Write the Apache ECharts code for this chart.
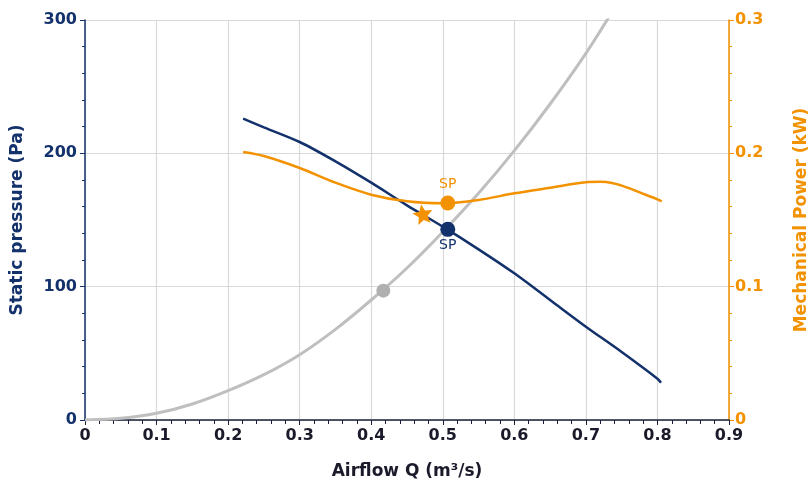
<!DOCTYPE html>
<html>
<head>
<meta charset="utf-8">
<script src="https://cdn.jsdelivr.net/npm/echarts@6/dist/echarts.min.js"></script>
<style>
html,body{margin:0;padding:0;background:#fff;}
#c{width:808px;height:482px;}
</style>
</head>
<body>
<div id="c"></div>
<script>
// Fan curve: static pressure (Pa) vs airflow (m3/s)
const pressureQ = [0.221, 0.25, 0.3, 0.35, 0.4, 0.45, 0.5, 0.55, 0.6, 0.65, 0.7, 0.75, 0.8, 0.805];
const pressureVals = [226, 219.5, 208.5, 194, 178, 161, 145, 128, 110, 90, 70, 51, 31, 28];
// Mechanical power (kW)
const powerQ = [0.221, 0.25, 0.3, 0.35, 0.4, 0.45, 0.5, 0.55, 0.6, 0.65, 0.7, 0.72, 0.738, 0.757, 0.776, 0.8, 0.806];
const powerVals = [0.201, 0.198, 0.189, 0.178, 0.169, 0.164, 0.1625, 0.165, 0.170, 0.1742, 0.1783, 0.1786, 0.1775, 0.1745, 0.1705, 0.1655, 0.164];
// System curve (Pa)
const systemQ = [0, 0.05, 0.1, 0.15, 0.2, 0.25, 0.3, 0.35, 0.4, 0.45, 0.5, 0.55, 0.6, 0.65, 0.7, 0.74];
const systemVals = [0, 1.3, 5, 12, 22, 34, 49, 68, 90, 114, 141, 170, 202, 237, 275, 309];
// Operating points
const spPressure = [0.507, 143];
const spPower = [0.507, 0.1628];
const starPower = [0.472, 0.1545];
const systemPoint = [0.4169, 97];
const spLabel = 'SP';

const NAVY = '#13316b';
const ORANGE = '#f39200';
const GRAY = '#bfbfbf';
const FONT = 'DejaVu Sans';

const zip = (a, b) => a.map((v, i) => [v, b[i]]);

const chart = echarts.init(document.getElementById('c'), null, {renderer: 'canvas'});
chart.setOption({
  animation: false,
  backgroundColor: '#fff',
  grid: {left: 85, right: 79, top: 20, bottom: 62, containLabel: false, outerBoundsMode: 'none'},
  xAxis: {
    type: 'value', min: 0, max: 0.9, interval: 0.1,
    name: 'Airflow Q (m³/s)', nameLocation: 'middle', nameGap: 43,
    nameTextStyle: {fontFamily: FONT, fontWeight: 'bold', fontSize: 17, color: '#1a1a2a'},
    axisLine: {show: true, onZero: false, lineStyle: {color: '#1a2238', width: 1.5}},
    axisTick: {show: true, length: 5, lineStyle: {color: '#1a2238'}},
    minorTick: {show: true, splitNumber: 5, length: 4, lineStyle: {color: '#1a2238'}},
    axisLabel: {fontFamily: FONT, fontWeight: 'bold', fontSize: 16, color: '#1a1a2a', margin: 8},
    splitLine: {show: true, lineStyle: {color: '#d9d9d9', width: 1.2}}
  },
  yAxis: [{
    type: 'value', min: 0, max: 300, interval: 100, position: 'left',
    name: 'Static pressure (Pa)', nameLocation: 'middle', nameGap: 59, nameRotate: 90,
    nameTextStyle: {fontFamily: FONT, fontWeight: 'bold', fontSize: 17, color: NAVY},
    axisLine: {show: true, lineStyle: {color: NAVY, width: 1.5}},
    axisTick: {show: true, length: 5, lineStyle: {color: NAVY}},
    minorTick: {show: true, splitNumber: 5, length: 3, lineStyle: {color: NAVY}},
    axisLabel: {fontFamily: FONT, fontWeight: 'bold', fontSize: 16, color: NAVY, margin: 8},
    splitLine: {show: true, lineStyle: {color: '#d9d9d9', width: 1.2}}
  }, {
    type: 'value', min: 0, max: 0.3, interval: 0.1, position: 'right',
    name: 'Mechanical Power (kW)', nameLocation: 'middle', nameGap: 64, nameRotate: 90,
    nameTextStyle: {fontFamily: FONT, fontWeight: 'bold', fontSize: 17, color: ORANGE},
    axisLine: {show: true, lineStyle: {color: ORANGE, width: 1.5}},
    axisTick: {show: true, length: 5, lineStyle: {color: ORANGE}},
    minorTick: {show: true, splitNumber: 5, length: 3, lineStyle: {color: ORANGE}},
    axisLabel: {fontFamily: FONT, fontWeight: 'bold', fontSize: 16, color: ORANGE, margin: 6,
      formatter: v => v === 0 ? '0' : String(Math.round(v * 10) / 10)},
    splitLine: {show: false}
  }],
  series: [{
    type: 'line', name: 'system', yAxisIndex: 0, data: zip(systemQ, systemVals),
    smooth: 0.3, showSymbol: false, clip: true,
    lineStyle: {color: GRAY, width: 3}, z: 2
  }, {
    type: 'line', name: 'pressure', yAxisIndex: 0, data: zip(pressureQ, pressureVals),
    smooth: 0.3, showSymbol: false,
    lineStyle: {color: NAVY, width: 2.5}, z: 3
  }, {
    type: 'line', name: 'power', yAxisIndex: 1, data: zip(powerQ, powerVals),
    smooth: 0.3, showSymbol: false,
    lineStyle: {color: ORANGE, width: 2.5}, z: 3
  }, {
    type: 'scatter', yAxisIndex: 0, data: [systemPoint], symbol: 'circle', symbolSize: 14,
    itemStyle: {color: '#b0b0b0', opacity: 1}, z: 5
  }, {
    type: 'scatter', yAxisIndex: 0, data: [spPressure], symbol: 'circle', symbolSize: 15,
    itemStyle: {color: NAVY, opacity: 1}, z: 6,
    label: {show: true, position: 'bottom', distance: 2, formatter: spLabel,
      fontFamily: FONT, fontSize: 14, color: NAVY}
  }, {
    type: 'scatter', yAxisIndex: 1, data: [spPower], symbol: 'circle', symbolSize: 15,
    itemStyle: {color: ORANGE, opacity: 1}, z: 6,
    label: {show: true, position: 'top', distance: 4, formatter: spLabel,
      fontFamily: FONT, fontSize: 14, color: ORANGE}
  }, {
    type: 'scatter', yAxisIndex: 1, data: [starPower],
    symbol: 'path://M0,-10 L2.645,-3.64 L9.51,-3.09 L4.28,1.39 L5.88,8.09 L0,4.5 L-5.88,8.09 L-4.28,1.39 L-9.51,-3.09 L-2.645,-3.64 Z',
    symbolSize: 20, symbolRotate: 10,
    itemStyle: {color: ORANGE, opacity: 1}, z: 6
  }]
});
</script>
</body>
</html>
